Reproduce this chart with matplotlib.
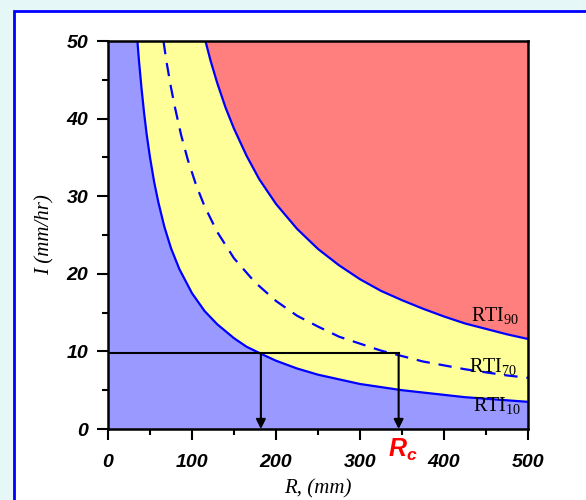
import numpy as np
import matplotlib
matplotlib.use("Agg")
import matplotlib.pyplot as plt
from matplotlib.patches import Rectangle

# curve points (R in mm, I in mm/hr)
r10 = [35, 37, 40, 43, 46, 50, 55, 60, 67, 75, 85, 100, 115, 130, 150, 165, 182, 200, 225, 250,
       275, 300, 325, 350, 375, 400, 425, 450, 475, 500]
i10 = [50, 47.3, 43.8, 40.7, 38.0, 35.0, 31.8, 29.2, 26.1, 23.3, 20.6, 17.5, 15.2, 13.5, 11.7, 10.6, 9.7, 8.8, 7.8, 7.0,
       6.4, 5.8, 5.4, 5.0, 4.7, 4.4, 4.1, 3.9, 3.7, 3.5]

r70 = [66, 70, 75, 80, 87, 95, 105, 115, 130, 150, 175, 200, 225, 250, 275, 300, 325, 350, 375, 400, 425, 450, 475, 500]
i70 = [50, 47.1, 44.0, 41.3, 37.9, 34.7, 31.4, 28.7, 25.4, 22.0, 18.9, 16.5, 14.6, 13.2, 11.9, 11.0, 10.1, 9.4, 8.7,
       8.2, 7.7, 7.3, 6.9, 6.6]

r90 = [116, 122, 130, 140, 150, 165, 180, 200, 225, 250, 275, 300, 325, 350, 375, 400, 425, 450, 475, 500]
i90 = [50, 47.5, 44.6, 41.4, 38.7, 35.2, 32.2, 29.0, 25.8, 23.2, 21.1, 19.3, 17.8, 16.6, 15.5, 14.5, 13.6, 12.9,
       12.2, 11.6]

i_design = 9.8
r_arrows = [182, 346]

x_ticks = [0, 100, 200, 300, 400, 500]
y_ticks = [0, 10, 20, 30, 40, 50]

plt.rcParams['mathtext.fontset'] = 'custom'
plt.rcParams['mathtext.rm'] = 'Liberation Serif'
plt.rcParams['mathtext.it'] = 'Liberation Sans:bold:italic'

fig = plt.figure(figsize=(5.86, 5.0), dpi=100, facecolor='#e6f7f8')
frame = Rectangle((14 / 586, -0.1), 1.0, 1.1 - 11 / 500, transform=fig.transFigure,
                  facecolor='white', edgecolor='#0000ff', lw=2, zorder=-5)
fig.patches.append(frame)

ax = fig.add_axes([108 / 586, 71 / 500, 420 / 586, 388 / 500])
ax.set_zorder(2)
ax.set_xlim(0, 500)
ax.set_ylim(0, 50)
ax.set_facecolor('#ffff99')

# blue region below RTI10
ax.fill([0, 0] + r10 + [500], [0, 50] + i10 + [0], color='#9999ff', lw=0, zorder=1)
# red region above RTI90
ax.fill(r90 + [500], i90 + [50], color='#ff7f7f', lw=0, zorder=1)

ax.plot(r10, i10, color='#0000ff', lw=1.6, zorder=3)
ax.plot(r90, i90, color='#0000ff', lw=1.6, zorder=3)
ax.plot(r70, i70, color='#0000ff', lw=1.6, dashes=(6, 4), zorder=3)

# design intensity lines and arrows
ax.plot([0, r_arrows[1]], [i_design, i_design], color='black', lw=1.5, zorder=4)
for r in r_arrows:
    ax.annotate('', xy=(r, 0), xytext=(r, i_design),
                arrowprops=dict(arrowstyle='-|>', color='black', lw=1.5,
                                mutation_scale=14, shrinkA=0, shrinkB=0), zorder=4)

lab_font = dict(family='Liberation Serif', fontsize=14.5, color='black', zorder=5)
ax.text(432, 13.8, r'RTI$_{\mathrm{90}}$', **lab_font)
ax.text(430, 7.3, r'RTI$_{\mathrm{70}}$', **lab_font)
ax.text(434, 2.2, r'RTI$_{\mathrm{10}}$', **lab_font)

ax.text(351, -2.7, r'$R_c$', color='#ff0000', fontsize=18, ha='center', va='center',
        clip_on=False)

ax.set_xticks(x_ticks)
ax.set_yticks(y_ticks)
ax.set_xticks(np.arange(50, 500, 100), minor=True)
ax.set_yticks(np.arange(5, 50, 10), minor=True)
ax.tick_params(which='major', direction='out', length=8, width=1.5, pad=10)
ax.tick_params(which='minor', direction='out', length=4, width=1.5)
ax.tick_params(axis='y', which='major', pad=6)
for lbl in ax.get_xticklabels() + ax.get_yticklabels():
    lbl.set_family('Liberation Sans')
    lbl.set_fontweight('bold')
    lbl.set_fontstyle('italic')
    lbl.set_fontsize(14)

for sp in ax.spines.values():
    sp.set_linewidth(1.8)
    sp.set_zorder(6)

ax.set_xlabel('R, (mm)', family='Liberation Serif', style='italic', fontsize=15, labelpad=6)
ax.set_ylabel('I (mm/hr)', family='Liberation Serif', style='italic', fontsize=15, labelpad=9)

fig.savefig('out.png', dpi=100, facecolor=fig.get_facecolor())
